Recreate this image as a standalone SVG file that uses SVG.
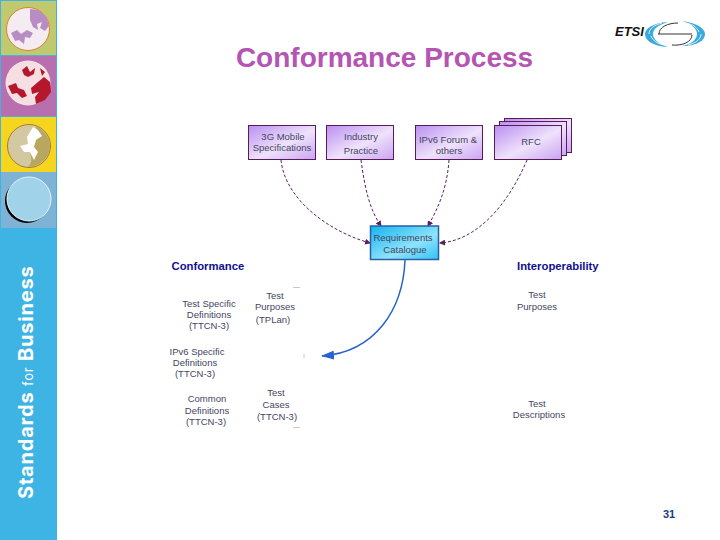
<svg xmlns="http://www.w3.org/2000/svg" width="720" height="540" viewBox="0 0 720 540">
<style>
text{font-family:"Liberation Sans",Arial,sans-serif}
.n{font-size:9.5px;fill:#45455f;text-anchor:middle}
.h{font-size:11.300px;font-weight:bold;fill:#101090}
.box{fill:url(#pg);stroke:#5a1a5a;stroke-width:1}
.dash{fill:none;stroke:#5a1f5f;stroke-width:1;stroke-dasharray:3 2;marker-end:url(#ah)}
.mark{fill:none;stroke:#c8c8c8;stroke-width:1}
</style>
<defs>
<linearGradient id="pg" x1="0" y1="0" x2="1" y2="1"><stop offset="0" stop-color="#b98ff0"/><stop offset=".55" stop-color="#efe2fb"/><stop offset="1" stop-color="#c9a4f2"/></linearGradient>
<linearGradient id="bg" x1="0" y1="0" x2="1" y2="1"><stop offset="0" stop-color="#12b4f2"/><stop offset=".6" stop-color="#8fe3fb"/><stop offset="1" stop-color="#30c2f5"/></linearGradient>
<marker id="ah" markerWidth="6" markerHeight="6" refX="5" refY="3" orient="auto"><path d="M0 0L6 3L0 6z" fill="#5a1f5f"/></marker>
<marker id="bh" markerUnits="userSpaceOnUse" markerWidth="13" markerHeight="9" refX="12" refY="4.500" orient="auto"><path d="M0 0L13 4.500L0 9z" fill="#2a62cc"/></marker>
</defs>
<rect width="720" height="540" fill="#fff"/>
<g id="sidebar">
<rect width="57" height="540" fill="#3eb4e4"/>
<rect x="1" y="1" width="55" height="54" fill="#c0c96e"/>
<rect x="1" y="56" width="55" height="60" fill="#b86fb0"/>
<rect x="1" y="117" width="55" height="55" fill="#f6d51f"/>
<rect x="1" y="172" width="55" height="56" fill="#7fb3d6"/>
<circle cx="28" cy="29" r="21.500" fill="#f5ecf2" stroke="#d9812f" stroke-width="1"/>
<path d="M30 9L38 10L46 16L49 26L45 31L40 28L42 22L37 24L38 30L33 27L30 20zM11 33L17 30L21 34L27 30L33 33L30 38L25 37L24 44L19 40L15 41z" fill="#b88cc4"/>
<circle cx="28" cy="83" r="22.500" fill="#f5dfe2"/>
<path d="M22 70L27 66L30 72L35 68L34 74L28 77L24 75zM40 68L45 72L42 76zM31 88L38 82L44 77L50 82L51 92L45 100L36 104L35 97L39 92L32 94zM8 86L16 83L18 88L24 90L27 96L22 98L17 93L12 94z" fill="#b5182c"/>
<circle cx="29" cy="146" r="21.500" fill="#d2c8a2" stroke="#a67d33" stroke-width="1"/>
<path d="M36 126C44 130 50 138 50 146C50 156 42 166 28 167C36 160 26 152 34 147C30 142 38 134 36 126z" fill="#b8a75f"/>
<path d="M27 137L33 127L38 130L42 136L36 140L34 147L38 152L34 160L30 152L24 152L20 146L28 144z" fill="#fff"/>
<circle cx="27" cy="201" r="22" fill="#000"/>
<circle cx="29" cy="199" r="22" fill="#a0d3ea" stroke="#e6f4fa" stroke-width="1"/>
<text transform="translate(33 499) rotate(-90)" font-size="20px" font-weight="bold" fill="#fff" letter-spacing=".8" style="font-family:Inter,'Open Sans',sans-serif">Standards <tspan font-size="13" font-weight="normal">for</tspan> Business</text>
</g>
<g id="title"><text x="384.500" y="67" font-size="28px" font-weight="bold" fill="#b455b4" text-anchor="middle">Conformance Process</text></g>
<g id="logo">
<text x="615" y="36" font-size="13px" font-weight="bold" font-style="italic" fill="#111">ETSI</text>
<path d="M668 22C652 23 645 29 645 34C645 40 652 46 668 47C658 44 653 39 653 34C653 29 658 25 668 22zM682 21C698 23 705 29 705 34C705 40 698 46 682 46C692 44 697 39 697 34C697 29 692 24 682 21z" fill="#3aa9dc"/>
<path d="M649 34C649 29 654 25 662 23M701 34C701 39 696 43 688 45M651 36C653 41 658 44 664 45M699 32C697 27 692 24 686 23" fill="none" stroke="#fff" stroke-width=".8"/>
<path d="M659 34C659 27 668 23 678 23M692 35C692 42 682 46 672 45M658 34H692" fill="none" stroke="#333" stroke-width="1"/>
</g>
<g id="connectors">
<path class="dash" d="M281 160C285 200 330 232 370 243"/>
<path class="dash" d="M361 160C365 190 370 210 381 226"/>
<path class="dash" d="M449 160C447 190 437 210 428 226"/>
<path class="dash" d="M527 160C510 200 480 240 440 243"/>
<path d="M405 260C403 310 375 352 322 356" fill="none" stroke="#2a62cc" stroke-width="1.500" marker-end="url(#bh)"/>
</g>
<g id="node-3g"><rect class="box" x="248.500" y="125.500" width="67" height="34"/><text class="n" x="283" y="140">3G Mobile</text><text class="n" x="282" y="151">Specifications</text></g>
<g id="node-industry"><rect class="box" x="326.500" y="125.500" width="67" height="34"/><text class="n" x="361" y="140">Industry</text><text class="n" x="361" y="154">Practice</text></g>
<g id="node-ipv6"><rect class="box" x="415.500" y="125.500" width="67" height="34"/><text class="n" x="448" y="143">IPv6 Forum &amp;</text><text class="n" x="449" y="154">others</text></g>
<g id="node-rfc"><rect class="box" x="504.500" y="118.500" width="67" height="34"/><rect class="box" x="499.500" y="121.500" width="67" height="34"/><rect class="box" x="494.500" y="125.500" width="67" height="34"/><text class="n" x="531" y="145">RFC</text></g>
<g id="node-req"><rect x="370.500" y="226" width="68" height="33.500" fill="url(#bg)" stroke="#2a5fa8" stroke-width="1.500"/><text class="n" x="403" y="241">Requirements</text><text class="n" x="405" y="253">Catalogue</text></g>
<g id="conformance">
<text class="h" x="171.500" y="270">Conformance</text>
<text class="n" x="209" y="307">Test Specific</text><text class="n" x="209" y="318">Definitions</text><text class="n" x="209" y="329">(TTCN-3)</text>
<text class="n" x="275" y="299">Test</text><text class="n" x="275" y="310">Purposes</text><text class="n" x="273" y="323">(TPLan)</text>
<text class="n" x="197" y="355">IPv6 Specific</text><text class="n" x="195" y="366">Definitions</text><text class="n" x="195" y="377">(TTCN-3)</text>
<text class="n" x="276" y="396">Test</text><text class="n" x="276" y="408">Cases</text><text class="n" x="277" y="420">(TTCN-3)</text>
<text class="n" x="207" y="402">Common</text><text class="n" x="207" y="414">Definitions</text><text class="n" x="206" y="425">(TTCN-3)</text>
<path class="mark" d="M293 287.500H300M304 354V358M293 427.500H300"/>
</g>
<g id="interoperability">
<text class="h" x="517" y="270">Interoperability</text>
<text class="n" x="537" y="298">Test</text><text class="n" x="537" y="310">Purposes</text>
<text class="n" x="537" y="407">Test</text><text class="n" x="539" y="418">Descriptions</text>
</g>
<g id="page"><text x="669" y="518" font-size="11px" font-weight="bold" fill="#1a3a8a" text-anchor="middle">31</text></g>
</svg>
